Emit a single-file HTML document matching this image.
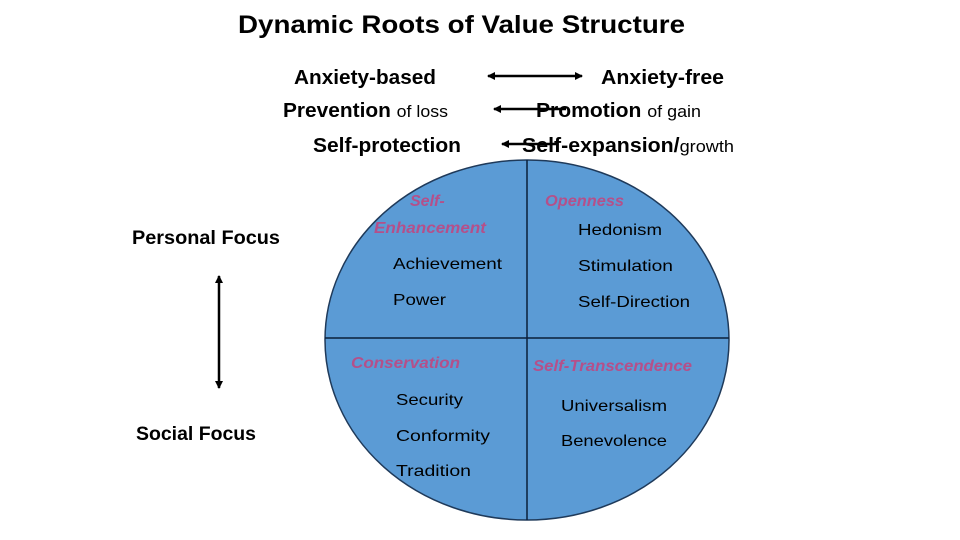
<!DOCTYPE html>
<html><head><meta charset="utf-8"><style>
html,body{margin:0;padding:0;background:#fff;}
svg{display:block;font-family:"Liberation Sans",sans-serif;}
.b{font-weight:bold;fill:#000;}
.m{font-style:italic;font-weight:bold;fill:#b4508a;}
</style></head><body>
<svg width="960" height="540" viewBox="0 0 960 540">
<defs>
<marker id="a" markerWidth="8" markerHeight="8" refX="7" refY="4" orient="auto-start-reverse" markerUnits="userSpaceOnUse"><path d="M0,0 L8,4 L0,8 z" fill="#000"/></marker>
</defs>
<text x="238" y="33" class="b" font-size="25" textLength="447" lengthAdjust="spacingAndGlyphs">Dynamic Roots of Value Structure</text>

<text x="294" y="84" class="b" font-size="20" textLength="142" lengthAdjust="spacingAndGlyphs">Anxiety-based</text>
<text x="601" y="84" class="b" font-size="20" textLength="123" lengthAdjust="spacingAndGlyphs">Anxiety-free</text>
<text x="283" y="117" font-size="20" textLength="165" lengthAdjust="spacingAndGlyphs"><tspan class="b">Prevention</tspan> <tspan font-size="17">of loss</tspan></text>
<text x="536" y="117" font-size="20" textLength="165" lengthAdjust="spacingAndGlyphs"><tspan class="b">Promotion</tspan> <tspan font-size="17">of gain</tspan></text>
<text x="313" y="152" class="b" font-size="20" textLength="148" lengthAdjust="spacingAndGlyphs">Self-protection</text>
<text x="522" y="152" font-size="20" textLength="212" lengthAdjust="spacingAndGlyphs"><tspan class="b">Self-expansion/</tspan><tspan font-size="17">growth</tspan></text>

<line x1="488" y1="76" x2="582" y2="76" stroke="#000" stroke-width="2.5" marker-start="url(#a)" marker-end="url(#a)"/>
<line x1="566" y1="109" x2="494" y2="109" stroke="#000" stroke-width="2.5" marker-end="url(#a)"/>
<line x1="556" y1="144" x2="502" y2="144" stroke="#000" stroke-width="2.5" marker-end="url(#a)"/>
<line x1="219" y1="276" x2="219" y2="388" stroke="#000" stroke-width="2.5" marker-start="url(#a)" marker-end="url(#a)"/>

<text x="132" y="244" class="b" font-size="19" textLength="148" lengthAdjust="spacingAndGlyphs">Personal Focus</text>
<text x="136" y="440" class="b" font-size="19" textLength="120" lengthAdjust="spacingAndGlyphs">Social Focus</text>

<ellipse cx="527" cy="340" rx="202" ry="180" fill="#5b9bd5" stroke="#1f3a5a" stroke-width="1.5"/>
<line x1="325" y1="338" x2="729" y2="338" stroke="#0b1f3a" stroke-width="1.5"/>
<line x1="527" y1="160" x2="527" y2="520" stroke="#0b1f3a" stroke-width="1.5"/>

<g font-size="16">
<text x="410" y="206" class="m">Self-</text>
<text x="374" y="233" class="m" textLength="112" lengthAdjust="spacingAndGlyphs">Enhancement</text>
<text x="545" y="206" class="m" textLength="79" lengthAdjust="spacingAndGlyphs">Openness</text>
<text x="351" y="368" class="m" textLength="109" lengthAdjust="spacingAndGlyphs">Conservation</text>
<text x="533" y="371" class="m" textLength="159" lengthAdjust="spacingAndGlyphs">Self-Transcendence</text>
</g>
<g class="b" font-size="16" style="font-weight:normal" fill="#000">
<text x="393" y="269" textLength="109" lengthAdjust="spacingAndGlyphs">Achievement</text>
<text x="393" y="305" textLength="53" lengthAdjust="spacingAndGlyphs">Power</text>
<text x="578" y="235" textLength="84" lengthAdjust="spacingAndGlyphs">Hedonism</text>
<text x="578" y="271" textLength="95" lengthAdjust="spacingAndGlyphs">Stimulation</text>
<text x="578" y="307" textLength="112" lengthAdjust="spacingAndGlyphs">Self-Direction</text>
<text x="396" y="405" textLength="67" lengthAdjust="spacingAndGlyphs">Security</text>
<text x="396" y="441" textLength="94" lengthAdjust="spacingAndGlyphs">Conformity</text>
<text x="396" y="476" textLength="75" lengthAdjust="spacingAndGlyphs">Tradition</text>
<text x="561" y="411" textLength="106" lengthAdjust="spacingAndGlyphs">Universalism</text>
<text x="561" y="446" textLength="106" lengthAdjust="spacingAndGlyphs">Benevolence</text>
</g>
</svg>
</body></html>
